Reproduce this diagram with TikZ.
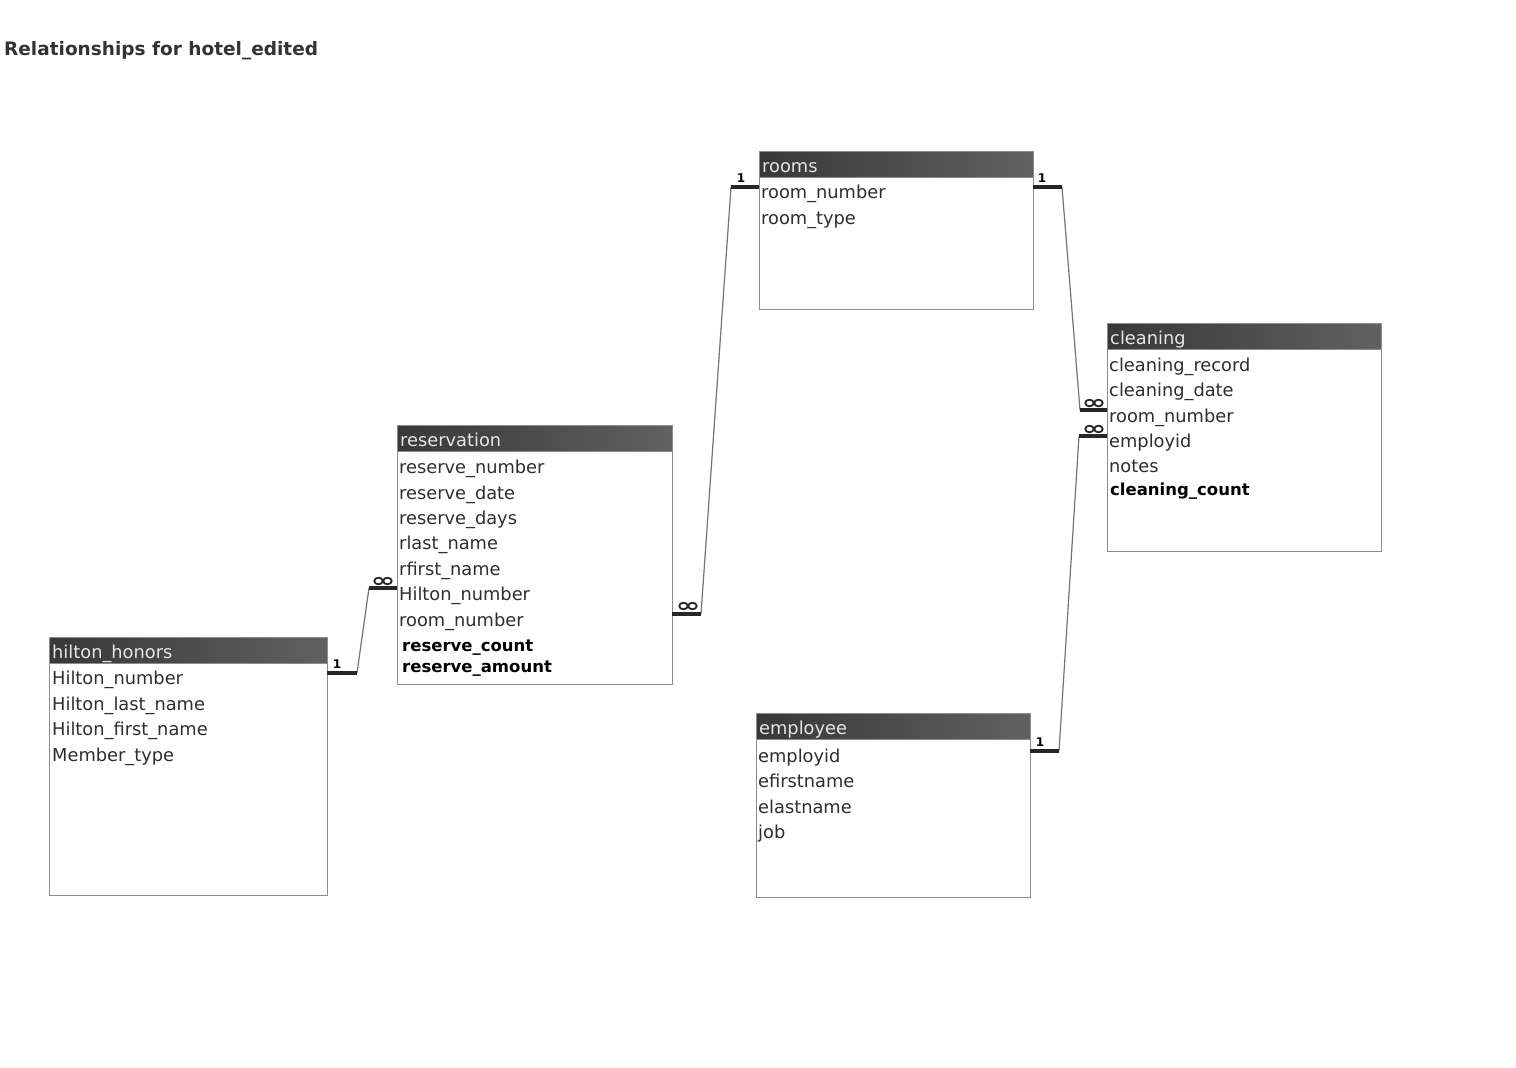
\documentclass[tikz,border=0pt]{standalone}
\usepackage{fontspec}
\setmainfont{DejaVu Sans}
\begin{document}
\begin{tikzpicture}[x=1pt,y=-1pt,
 tblbody/.style={draw=black!45, line width=0.9pt, fill=white, anchor=north west, inner sep=0pt},
 tblhead/.style={anchor=north west, inner sep=0pt, left color=black!78, right color=black!62, draw=black!45, line width=0.9pt},
 headtxt/.style={anchor=base west, text=white!90!black, font=\fontsize{17.8}{20}\selectfont, inner sep=0pt},
 fld/.style={anchor=base west, text=black!82, font=\fontsize{17.8}{20}\selectfont, inner sep=0pt},
 bfld/.style={anchor=base west, text=black, font=\fontsize{16.5}{20}\selectfont\bfseries, inner sep=0pt},
 bar/.style={line width=3.5pt, black!85},
 link/.style={line width=1.2pt, black!55},
 onelbl/.style={font=\fontsize{12}{12}\selectfont\bfseries, inner sep=0pt, anchor=south},
 manysym/.pic={\draw[line width=1.8pt, black!85] (-4.5,0) ellipse [x radius=4.2, y radius=3.3] (4.5,0) ellipse [x radius=4.2, y radius=3.3];},
]
\useasboundingbox[fill=white] (0,0) rectangle (1516,1068);

% title
\node[anchor=base west, inner sep=0pt, text=black!80, font=\fontsize{18.5}{20}\selectfont\bfseries] (title) at (4,55) {Relationships for hotel\_edited};

% rooms
\node[tblbody, minimum width=274, minimum height=158] (rooms) at (759,151) {};
\node[tblhead, minimum width=274, minimum height=26] (roomsH) at (759,151) {};
\node[headtxt] (roomsT) at (762,172) {rooms};
\node[fld] (rooms1) at (761,198.5) {room\_number};
\node[fld] (rooms2) at (761,224.5) {room\_type};

% cleaning
\node[tblbody, minimum width=274, minimum height=228] (clean) at (1107,323) {};
\node[tblhead, minimum width=274, minimum height=26] (cleanH) at (1107,323) {};
\node[headtxt] (cleanT) at (1110,344) {cleaning};
\node[fld] (clean1) at (1109,371.5) {cleaning\_record};
\node[fld] (clean2) at (1109,396.5) {cleaning\_date};
\node[fld] (clean3) at (1109,422.5) {room\_number};
\node[fld] (clean4) at (1109,447.5) {employid};
\node[fld] (clean5) at (1109,472.5) {notes};
\node[bfld] (clean6) at (1110,495.5) {cleaning\_count};

% reservation
\node[tblbody, minimum width=275, minimum height=259] (res) at (397,425) {};
\node[tblhead, minimum width=275, minimum height=26] (resH) at (397,425) {};
\node[headtxt] (resT) at (400,446) {reservation};
\node[fld] (res1) at (399,473.5) {reserve\_number};
\node[fld] (res2) at (399,499) {reserve\_date};
\node[fld] (res3) at (399,524.5) {reserve\_days};
\node[fld] (res4) at (399,549.5) {rlast\_name};
\node[fld] (res5) at (399,575) {rfirst\_name};
\node[fld] (res6) at (399,600.5) {Hilton\_number};
\node[fld] (res7) at (399,626) {room\_number};
\node[bfld] (res8) at (402,651) {reserve\_count};
\node[bfld] (res9) at (402,672) {reserve\_amount};

% hilton_honors
\node[tblbody, minimum width=278, minimum height=258] (hh) at (49,637) {};
\node[tblhead, minimum width=278, minimum height=26] (hhH) at (49,637) {};
\node[headtxt] (hhT) at (52,658) {hilton\_honors};
\node[fld] (hh1) at (52,684.5) {Hilton\_number};
\node[fld] (hh2) at (52,710) {Hilton\_last\_name};
\node[fld] (hh3) at (52,735.5) {Hilton\_first\_name};
\node[fld] (hh4) at (52,761) {Member\_type};

% employee
\node[tblbody, minimum width=274, minimum height=184] (emp) at (756,713) {};
\node[tblhead, minimum width=274, minimum height=26] (empH) at (756,713) {};
\node[headtxt] (empT) at (759,734) {employee};
\node[fld] (emp1) at (758,762) {employid};
\node[fld] (emp2) at (758,787.5) {efirstname};
\node[fld] (emp3) at (758,813) {elastname};
\node[fld] (emp4) at (758,838.5) {job};

% connector end points
\coordinate (roomsLa) at (759,187);  \coordinate (roomsLb) at (731,187);
\coordinate (roomsRa) at (1033,187); \coordinate (roomsRb) at (1062,187);
\coordinate (resRa) at (672,614);    \coordinate (resRb) at (701,614);
\coordinate (resLa) at (397,588);    \coordinate (resLb) at (369,588);
\coordinate (hhRa) at (327,673);     \coordinate (hhRb) at (357,673);
\coordinate (clA1) at (1107,410);    \coordinate (clB1) at (1080,410);
\coordinate (clA2) at (1107,436);    \coordinate (clB2) at (1079,436);
\coordinate (empRa) at (1030,751);   \coordinate (empRb) at (1059,751);

% rooms -> reservation
\draw[link] (roomsLb) -- (resRb);
\draw[bar] (roomsLa) -- (roomsLb);
\draw[bar] (resRa) -- (resRb);
\node[onelbl] (one1) at (741,183) {1};
\pic at (688,606) {manysym};

% rooms -> cleaning
\draw[link] (roomsRb) -- (clB1);
\draw[bar] (roomsRa) -- (roomsRb);
\draw[bar] (clA1) -- (clB1);
\node[onelbl] (one2) at (1042,183) {1};
\pic at (1094,403) {manysym};

% employee -> cleaning
\draw[link] (empRb) -- (clB2);
\draw[bar] (empRa) -- (empRb);
\draw[bar] (clA2) -- (clB2);
\node[onelbl] (one3) at (1040,747) {1};
\pic at (1094,429) {manysym};

% hilton_honors -> reservation
\draw[link] (hhRb) -- (resLb);
\draw[bar] (hhRa) -- (hhRb);
\draw[bar] (resLa) -- (resLb);
\node[onelbl] (one4) at (337,669) {1};
\pic at (383,581) {manysym};
\end{tikzpicture}
\end{document}
